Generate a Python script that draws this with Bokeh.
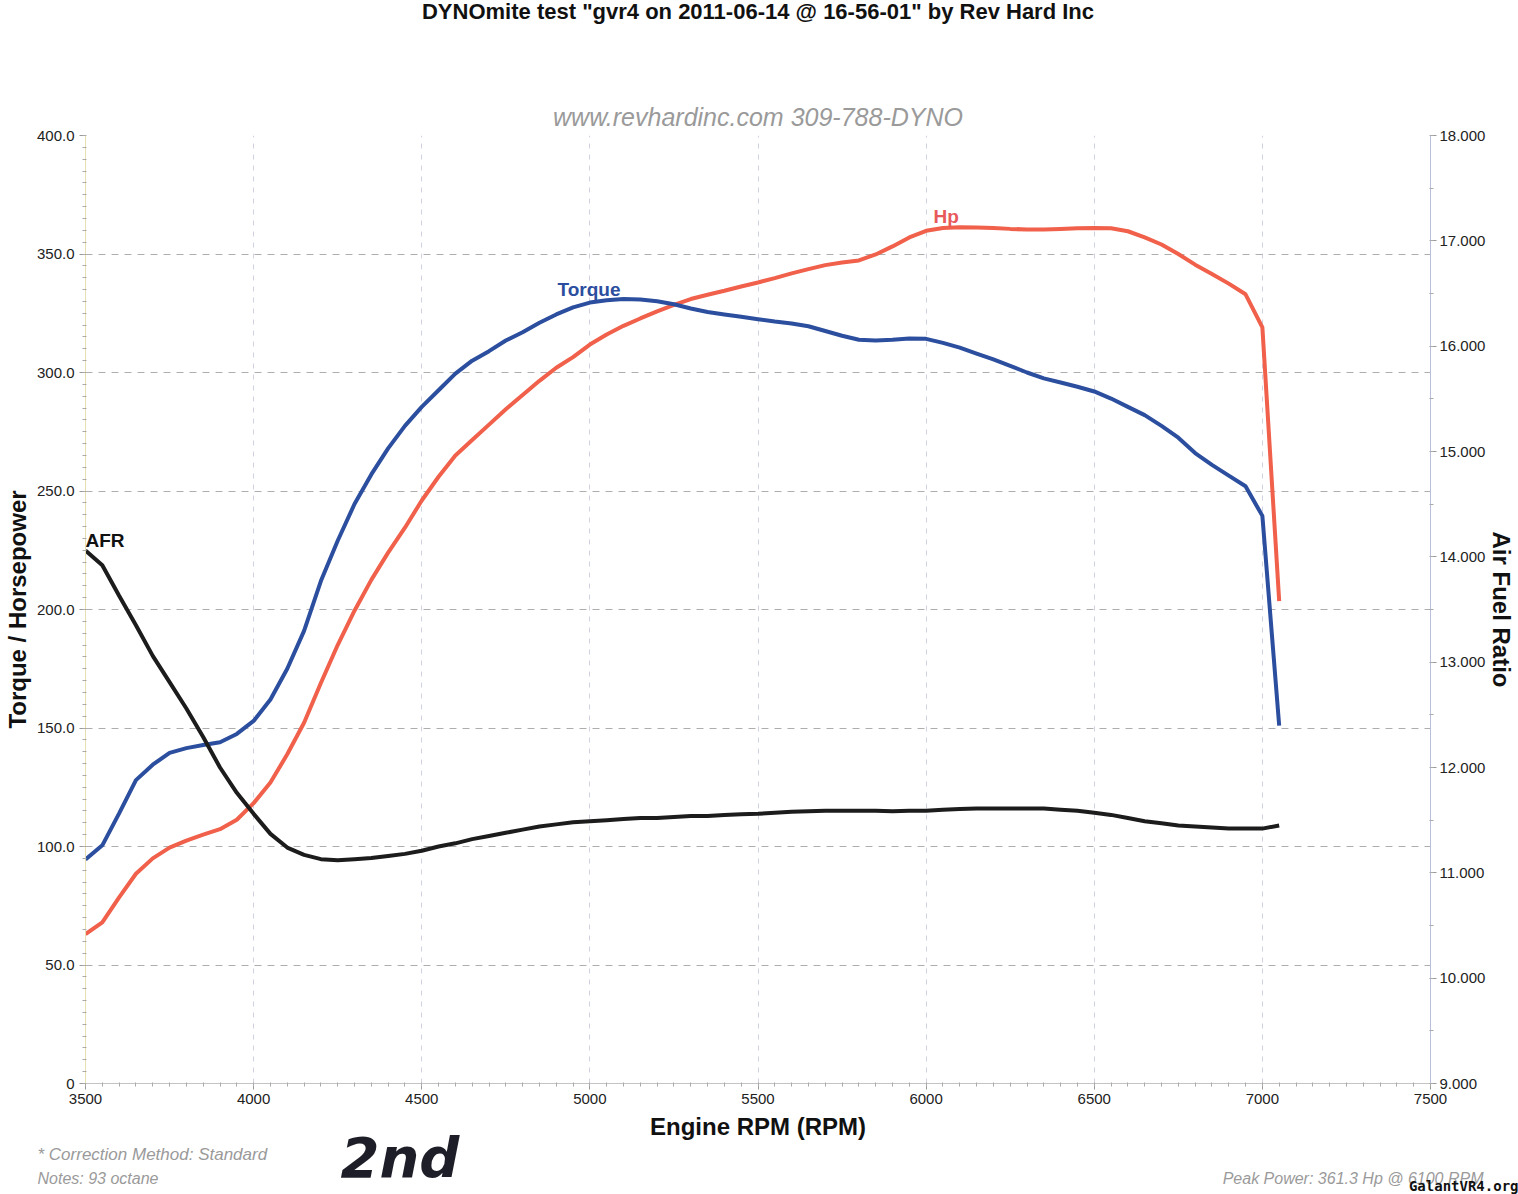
from bokeh.plotting import figure
from bokeh.models import Range1d, LinearAxis, SingleIntervalTicker, NumeralTickFormatter, Label, Title
from bokeh.embed import file_html
from bokeh.resources import INLINE

# ---------------- data (read from the dyno sheet) ----------------
rpm = [3500, 3550, 3600, 3650, 3700, 3750, 3800, 3850, 3900, 3950,
       4000, 4050, 4100, 4150, 4200, 4250, 4300, 4350, 4400, 4450,
       4500, 4550, 4600, 4650, 4700, 4750, 4800, 4850, 4900, 4950,
       5000, 5050, 5100, 5150, 5200, 5250, 5300, 5350, 5400, 5450,
       5500, 5550, 5600, 5650, 5700, 5750, 5800, 5850, 5900, 5950,
       6000, 6050, 6100, 6150, 6200, 6250, 6300, 6350, 6400, 6450,
       6500, 6550, 6600, 6650, 6700, 6750, 6800, 6850, 6900, 6950,
       7000, 7050]

torque = [94.5, 100.5, 114, 128, 134.5, 139.5, 141.5, 142.8, 144, 147.5,
          153, 162, 175, 191, 212, 229, 244.5, 257, 268, 277.5,
          285.5, 292.5, 299.5, 305, 309, 313.5, 317, 321, 324.5, 327.5,
          329.5, 330.5, 331, 330.8, 330.1, 328.8, 327, 325.5, 324.5, 323.5,
          322.5, 321.5, 320.7, 319.5, 317.5, 315.5, 313.8, 313.5, 313.8, 314.3,
          314.2, 312.5, 310.5, 308, 305.5, 302.8, 300, 297.5, 295.8, 294,
          292, 289, 285.5, 282, 277.5, 272.5, 266, 261, 256.5, 252,
          239.5, 151]

hp = [63, 68, 78.5, 88.5, 95, 99.5, 102.5, 105, 107.3, 111.3,
      118.3, 127, 138.9, 152.2, 169, 185, 199.5, 212.5, 224, 234.5,
      246, 256, 265, 271.5, 278, 284.5, 290.5, 296.5, 302, 306.5,
      311.8, 316, 319.7, 322.8, 325.8, 328.5, 331, 332.8, 334.5, 336.3,
      338, 339.8, 341.8, 343.6, 345.3, 346.4, 347.3, 349.8, 353.2, 357,
      359.8, 361, 361.3, 361.2, 361, 360.6, 360.3, 360.3, 360.6, 360.9,
      361.0, 360.9, 359.6, 357, 354, 350, 345.5, 341.6, 337.5, 333,
      319, 203.5]

afr = [14.06, 13.92, 13.63, 13.35, 13.06, 12.81, 12.56, 12.29, 12.00, 11.76,
       11.56, 11.37, 11.24, 11.17, 11.13, 11.12, 11.13, 11.14, 11.16, 11.18,
       11.21, 11.25, 11.28, 11.32, 11.35, 11.38, 11.41, 11.44, 11.46, 11.48,
       11.49, 11.50, 11.51, 11.52, 11.52, 11.53, 11.54, 11.54, 11.55, 11.555,
       11.56, 11.57, 11.58, 11.585, 11.59, 11.59, 11.59, 11.59, 11.585, 11.59,
       11.59, 11.60, 11.605, 11.61, 11.61, 11.61, 11.61, 11.61, 11.60, 11.59,
       11.57, 11.55, 11.52, 11.49, 11.47, 11.45, 11.44, 11.43, 11.42, 11.42,
       11.42, 11.45]

title_text = 'DYNOmite test "gvr4 on 2011-06-14 @ 16-56-01" by Rev Hard Inc'
subtitle_text = "www.revhardinc.com 309-788-DYNO"
note1 = "* Correction Method: Standard"
note2 = "Notes: 93 octane"
peak_text = "Peak Power: 361.3 Hp @ 6100 RPM"

FONT = "Liberation Sans"
TORQUE_C = "#2c4e9e"
HP_C = "#f0604a"
AFR_C = "#1c1c1c"
GREY_TXT = "#9a9a9a"

p = figure(width=1518, height=1194, output_backend="svg", toolbar_location=None,
           x_range=Range1d(3500, 7500), y_range=Range1d(0, 400), title=None,
           min_border_left=85, min_border_right=88, min_border_top=135, min_border_bottom=111,
           background_fill_color="white", border_fill_color="white", outline_line_color=None)
p.extra_y_ranges = {"afr": Range1d(9, 18)}

xa = p.xaxis[0]
xa.ticker = SingleIntervalTicker(interval=500, num_minor_ticks=10)
xa.axis_label = "Engine RPM (RPM)"
ya = p.yaxis[0]
ya.ticker = SingleIntervalTicker(interval=50, num_minor_ticks=10)
ya.formatter = NumeralTickFormatter(format="0.0")
ya.major_label_overrides = {0: "0"}
ya.axis_label = "Torque / Horsepower"
ra = LinearAxis(y_range_name="afr", ticker=SingleIntervalTicker(interval=1, num_minor_ticks=2),
                formatter=NumeralTickFormatter(format="0.000"), axis_label="Air Fuel Ratio")
p.add_layout(ra, "right")

for ax, lc in ((xa, "#c4c4c4"), (ya, "#e6e0b0"), (ra, "#b8bfdc")):
    ax.axis_line_color = lc
    ax.major_tick_line_color = "#999999"
    ax.minor_tick_line_color = "#aaaaaa"
    ax.major_tick_out = 6
    ax.major_tick_in = 0
    ax.minor_tick_out = 3
    ax.minor_tick_in = 1
    ax.major_label_text_font = FONT
    ax.major_label_text_font_size = "15px"
    ax.major_label_text_color = "#222222"
    ax.axis_label_text_font = FONT
    ax.axis_label_text_font_size = "24px"
    ax.axis_label_text_font_style = "bold"
    ax.axis_label_text_color = "#111111"
xa.major_label_standoff = 4
xa.axis_label_standoff = 6
ya.major_label_standoff = 5
ya.axis_label_standoff = 3
ra.major_label_standoff = 3
ra.axis_label_standoff = 0

p.xgrid.grid_line_color = "#cfd2e2"
p.xgrid.grid_line_dash = "5 6"
p.xgrid.grid_line_width = 1
p.ygrid.grid_line_color = "#aeaeae"
p.ygrid.grid_line_dash = "7 6"
p.ygrid.grid_line_width = 1

p.line(rpm, hp, line_color=HP_C, line_width=4)
p.line(rpm, torque, line_color=TORQUE_C, line_width=4)
p.line(rpm, afr, y_range_name="afr", line_color=AFR_C, line_width=4)


def lab(text, x, y, size, color="#111111", style="bold"):
    p.add_layout(Label(x=x, y=y, x_units="screen", y_units="screen", text=text,
                       text_font=FONT, text_font_size=size, text_color=color,
                       text_font_style=style, text_baseline="middle"))


lab("Torque", 472, 794, "19px", TORQUE_C)
lab("Hp", 848, 867, "19px", "#e8595b")
lab("AFR", 0, 543, "19px", "#111111")


def ttl(place, text, size, color, style, align="center", offset=0, standoff=0,
        valign="middle", font=FONT):
    p.add_layout(Title(text=text, text_font=font, text_font_size=size, text_color=color,
                       text_font_style=style, align=align, offset=offset,
                       standoff=standoff, vertical_align=valign), place)


def spacer(place, gap):
    ttl(place, " ", "1px", "white", "normal", standoff=gap)


# header (first added sits next to the plot area)
ttl("above", subtitle_text, "25px", GREY_TXT, "italic", standoff=10, valign="bottom")
spacer("above", 69)
ttl("above", title_text, "22px", "#111111", "bold", standoff=-4, valign="top")

# footer (stacked below the x axis); zero-height rows share a baseline
spacer("below", 9)
ttl("below", note1, "17px", GREY_TXT, "italic", align="left", offset=-48, standoff=-21)
spacer("below", 0)
ttl("below", "2nd", "56px", "#1e1e28", "bold italic", align="left", offset=255,
    standoff=-67, font="DejaVu Sans")
spacer("below", 18)
ttl("below", note2, "16px", GREY_TXT, "italic", align="left", offset=-48, standoff=-20)
ttl("below", peak_text, "16px", GREY_TXT, "italic", align="right", offset=-53, standoff=-20)
spacer("below", 4)
ttl("below", "GalantVR4.org", "14px", "#111111", "bold", align="right", offset=-88,
    standoff=-18, font="DejaVu Sans Mono")

open("out.html", "w").write(file_html(p, INLINE))
